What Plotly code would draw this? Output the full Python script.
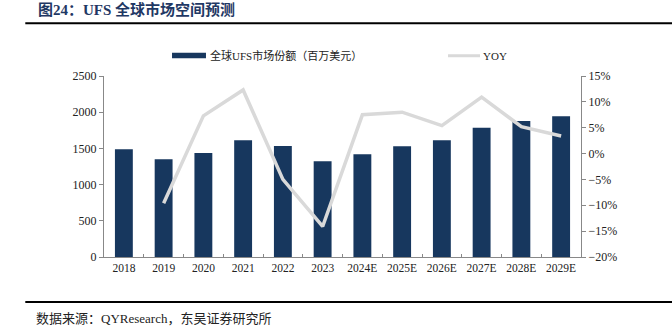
import plotly.graph_objects as go

years = ["2018", "2019", "2020", "2021", "2022", "2023",
         "2024E", "2025E", "2026E", "2027E", "2028E", "2029E"]
market = [1487, 1349, 1436, 1612, 1533, 1322, 1418, 1529, 1612, 1786, 1878, 1943]
yoy = [None, -0.096, 0.073, 0.123, -0.050, -0.141, 0.075, 0.080, 0.054, 0.109, 0.052, 0.034]

bar_name = "全球UFS市场份额（百万美元）"
line_name = "YOY"
title_text = "图24：UFS 全球市场空间预测"
source_text = "数据来源：QYResearch，东吴证券研究所"

bar_color = "#17375e"
line_color = "#d9d9d9"
serif = "Liberation Serif, Noto Sans CJK SC, serif"
axis_col = "#888888"
txt_col = "#222222"

fig = go.Figure()
fig.add_trace(go.Bar(x=years, y=market, name=bar_name, marker_color=bar_color,
                     marker_line_width=0, width=0.45, yaxis="y", showlegend=False))
fig.add_trace(go.Scatter(x=years, y=yoy, name=line_name, mode="lines",
                         line=dict(color=line_color, width=3.5), yaxis="y2",
                         showlegend=False))

fig.update_layout(
    width=672, height=329,
    margin=dict(l=104, r=91, t=76, b=72),
    paper_bgcolor="white", plot_bgcolor="white",
    font=dict(family=serif, size=12, color=txt_col),
    xaxis=dict(type="category", showline=True, linecolor=axis_col, linewidth=1,
               ticks="inside", tickson="boundaries", ticklen=3, tickcolor=axis_col,
               tickangle=0, showgrid=False,
               tickfont=dict(size=11.5, family=serif, color=txt_col)),
    yaxis=dict(range=[0, 2500], dtick=500, showline=True, linecolor=axis_col,
               ticks="outside", ticklen=4, tickcolor=axis_col, showgrid=False,
               zeroline=False, tickfont=dict(size=12, family=serif, color=txt_col)),
    yaxis2=dict(range=[-0.20, 0.15], dtick=0.05, tickformat=".0%", overlaying="y",
                side="right", showline=True, linecolor=axis_col, ticks="outside",
                ticklen=4, tickcolor=axis_col, showgrid=False, zeroline=False,
                tickfont=dict(size=12, family=serif, color=txt_col)),
    shapes=[
        # title / footer rules
        dict(type="line", xref="paper", yref="paper", x0=-0.165, x1=1.2,
             y0=1.292, y1=1.292, line=dict(color="#000000", width=2)),
        dict(type="line", xref="paper", yref="paper", x0=-0.165, x1=1.2,
             y0=-0.2486, y1=-0.2486, line=dict(color="#000000", width=2)),
        # legend swatches
        dict(type="rect", xref="paper", yref="paper", x0=0.1426, x1=0.2138,
             y0=1.098, y1=1.128, fillcolor=bar_color, line=dict(width=0)),
        dict(type="line", xref="paper", yref="paper", x0=0.7212, x1=0.7883,
             y0=1.112, y1=1.112, line=dict(color=line_color, width=3)),
    ],
    annotations=[
        dict(text="<b>" + title_text + "</b>", xref="paper", yref="paper", x=-0.143, y=1.37,
             xanchor="left", yanchor="middle", showarrow=False,
             font=dict(size=15, family="Liberation Serif, Noto Sans CJK SC", color="#1f3864")),
        dict(text=source_text, xref="paper", yref="paper", x=-0.147, y=-0.39,
             xanchor="left", yanchor="bottom", showarrow=False,
             font=dict(size=13, family="Liberation Serif, Noto Sans CJK SC", color=txt_col)),
        dict(text=bar_name, xref="paper", yref="paper", x=0.217, y=1.112,
             xanchor="left", yanchor="middle", showarrow=False,
             font=dict(size=11, family=serif, color=txt_col)),
        dict(text=line_name, xref="paper", yref="paper", x=0.791, y=1.112,
             xanchor="left", yanchor="middle", showarrow=False,
             font=dict(size=11, family=serif, color=txt_col)),
    ],
)

fig.write_html("out.html")
